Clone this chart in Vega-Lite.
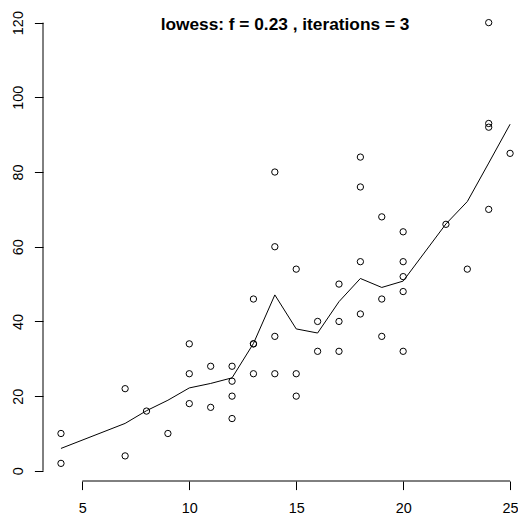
{
  "$schema": "https://vega.github.io/schema/vega-lite/v6.json",
  "width": 475,
  "height": 476,
  "autosize": "none",
  "padding": {"left": 43, "top": 5, "right": 0, "bottom": 35},
  "background": "white",
  "title": {
    "text": "lowess: f = 0.23 , iterations = 3",
    "font": "Liberation Sans",
    "fontSize": 17.3,
    "fontWeight": "bold",
    "color": "black",
    "anchor": "middle",
    "frame": "group",
    "baseline": "alphabetic",
    "offset": -42,
    "dx": 4.5
  },
  "config": {
    "view": {"stroke": null},
    "axis": {
      "domain": false,
      "grid": false,
      "ticks": true,
      "tickSize": 8.6,
      "tickColor": "black",
      "tickWidth": 1,
      "labelFont": "Liberation Sans",
      "labelFontSize": 14.4,
      "labelColor": "black",
      "title": null
    }
  },
  "datasets": {
    "cars": [
      {"speed": 4, "dist": 2}, {"speed": 4, "dist": 10}, {"speed": 7, "dist": 4}, {"speed": 7, "dist": 22},
      {"speed": 8, "dist": 16}, {"speed": 9, "dist": 10}, {"speed": 10, "dist": 18}, {"speed": 10, "dist": 26},
      {"speed": 10, "dist": 34}, {"speed": 11, "dist": 17}, {"speed": 11, "dist": 28}, {"speed": 12, "dist": 14},
      {"speed": 12, "dist": 20}, {"speed": 12, "dist": 24}, {"speed": 12, "dist": 28}, {"speed": 13, "dist": 26},
      {"speed": 13, "dist": 34}, {"speed": 13, "dist": 34}, {"speed": 13, "dist": 46}, {"speed": 14, "dist": 26},
      {"speed": 14, "dist": 36}, {"speed": 14, "dist": 60}, {"speed": 14, "dist": 80}, {"speed": 15, "dist": 20},
      {"speed": 15, "dist": 26}, {"speed": 15, "dist": 54}, {"speed": 16, "dist": 32}, {"speed": 16, "dist": 40},
      {"speed": 17, "dist": 32}, {"speed": 17, "dist": 40}, {"speed": 17, "dist": 50}, {"speed": 18, "dist": 42},
      {"speed": 18, "dist": 56}, {"speed": 18, "dist": 76}, {"speed": 18, "dist": 84}, {"speed": 19, "dist": 36},
      {"speed": 19, "dist": 46}, {"speed": 19, "dist": 68}, {"speed": 20, "dist": 32}, {"speed": 20, "dist": 48},
      {"speed": 20, "dist": 52}, {"speed": 20, "dist": 56}, {"speed": 20, "dist": 64}, {"speed": 22, "dist": 66},
      {"speed": 23, "dist": 54}, {"speed": 24, "dist": 70}, {"speed": 24, "dist": 92}, {"speed": 24, "dist": 93},
      {"speed": 24, "dist": 120}, {"speed": 25, "dist": 85}
    ],
    "lowess": [
      {"speed": 4, "fit": 6.0}, {"speed": 7, "fit": 12.7}, {"speed": 8, "fit": 16.1}, {"speed": 9, "fit": 18.9},
      {"speed": 10, "fit": 22.2}, {"speed": 11, "fit": 23.4}, {"speed": 12, "fit": 24.9}, {"speed": 13, "fit": 34.1},
      {"speed": 14, "fit": 47.1}, {"speed": 15, "fit": 38.0}, {"speed": 16, "fit": 36.9}, {"speed": 17, "fit": 45.3},
      {"speed": 18, "fit": 51.5}, {"speed": 19, "fit": 49.1}, {"speed": 20, "fit": 50.8}, {"speed": 22, "fit": 66.1},
      {"speed": 23, "fit": 72.1}, {"speed": 24, "fit": 82.4}, {"speed": 25, "fit": 92.8}
    ]
  },
  "layer": [
    {
      "data": {"name": "cars"},
      "mark": {"type": "point", "shape": "circle", "size": 40, "filled": false, "stroke": "black", "strokeWidth": 1, "opacity": 1},
      "encoding": {
        "x": {"field": "speed", "type": "quantitative",
              "scale": {"domain": [3.16, 25.37], "nice": false, "zero": false},
              "axis": {"values": [5, 10, 15, 20, 25], "labelPadding": 12}},
        "y": {"field": "dist", "type": "quantitative",
              "scale": {"domain": [-2.72, 124.72], "nice": false, "zero": false},
              "axis": {"values": [0, 20, 40, 60, 80, 100, 120], "labelAngle": 270, "labelPadding": 9}}
      }
    },
    {
      "data": {"name": "lowess"},
      "mark": {"type": "line", "color": "black", "strokeWidth": 1},
      "encoding": {
        "x": {"field": "speed", "type": "quantitative"},
        "y": {"field": "fit", "type": "quantitative"}
      }
    },
    {
      "data": {"values": [{}]},
      "mark": {"type": "rule", "color": "black", "strokeWidth": 1},
      "encoding": {
        "x": {"datum": 5},
        "x2": {"datum": 25},
        "y": {"datum": -2.72}
      }
    },
    {
      "data": {"values": [{}]},
      "mark": {"type": "rule", "color": "black", "strokeWidth": 1},
      "encoding": {
        "y": {"datum": 0},
        "y2": {"datum": 120},
        "x": {"datum": 3.16}
      }
    }
  ]
}
